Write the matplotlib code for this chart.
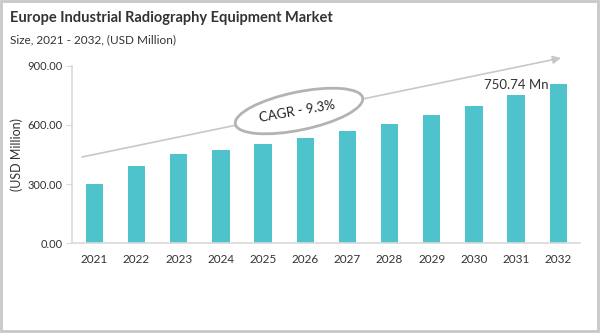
import numpy as np
import matplotlib.pyplot as plt
from matplotlib.patches import Ellipse, Rectangle

plt.rcParams['font.family'] = ['Lato', 'DejaVu Sans']

years = ['2021', '2022', '2023', '2024', '2025', '2026',
         '2027', '2028', '2029', '2030', '2031', '2032']
market_size = [302.6, 394.0, 452.0, 474.0, 504.0, 535.0,
               569.0, 606.0, 650.0, 698.0, 750.74, 808.0]
y_ticks = [0, 300, 600, 900]
callout_year = '2031'
cagr_text = 'CAGR - 9.3%'

bar_color = '#4EC3CC'
text_color = '#333333'
axis_color = '#d9d9d9'

fig = plt.figure(figsize=(6, 3.33), dpi=100)
ax = fig.add_axes([0.12, 0.27, 0.847, 0.532])

x = np.arange(len(years))
ax.bar(x, market_size, width=0.41, color=bar_color, zorder=2)

ax.set_xlim(-0.53, len(years) - 0.48)
ax.set_ylim(0, 900)
ax.set_xticks(x)
ax.set_xticklabels(years, fontsize=8.5, color=text_color)
ax.set_yticks(y_ticks)
ax.set_yticklabels([f'{v:.2f}' for v in y_ticks], fontsize=8, color=text_color)
ax.tick_params(axis='x', length=0, pad=8)
ax.tick_params(axis='y', length=4, color=axis_color, pad=3)
for side in ['top', 'right']:
    ax.spines[side].set_visible(False)
for side in ['left', 'bottom']:
    ax.spines[side].set_color(axis_color)
    ax.spines[side].set_linewidth(1.2)
ax.set_ylabel('(USD Million)', fontsize=9, color=text_color, labelpad=3)

# value callout above the 2031 bar
i = years.index(callout_year)
ax.annotate(f'{market_size[i]:.2f} Mn', xy=(x[i], market_size[i]),
            xytext=(0, 7.5), textcoords='offset points',
            ha='center', va='center', fontsize=9.5, color=text_color)

# overlay in pixel units for the trend arrow, CAGR bubble and frame
ov = fig.add_axes([0, 0, 1, 1], zorder=5)
ov.set_xlim(0, 600)
ov.set_ylim(333, 0)
ov.axis('off')
ov.patch.set_alpha(0)

ov.annotate('', xy=(561, 58), xytext=(82, 157),
            arrowprops=dict(arrowstyle='-|>', color='#c8c8c8', lw=1.2,
                            mutation_scale=12, shrinkA=0, shrinkB=0),
            zorder=2)
ov.add_patch(Ellipse((299, 111), 130, 38, angle=-11.7, facecolor='white',
                     edgecolor='#b3b3b3', lw=2, zorder=4))
ov.text(297, 111, cagr_text, rotation=10, ha='center', va='center',
        fontsize=9.5, color='#222222', zorder=5)

ov.add_patch(Rectangle((1, 1), 597, 330, fill=False, edgecolor='#c8c8c8', lw=2))

fig.text(10 / 600, 1 - 18 / 333, 'Europe Industrial Radiography Equipment Market',
         fontsize=10.5, fontweight='bold', color='#333333', va='center')
fig.text(10 / 600, 1 - 40 / 333, 'Size, 2021 - 2032, (USD Million)',
         fontsize=8.5, color='#333333', va='center')

fig.savefig('out.png', dpi=100, facecolor='white')
